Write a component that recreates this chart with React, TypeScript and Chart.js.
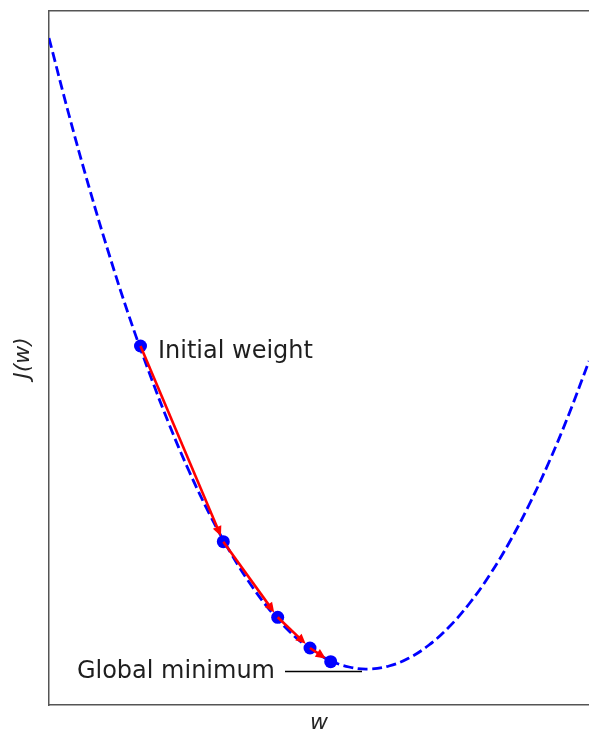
import React, { useEffect, useRef } from "react";
import { Chart, registerables } from "chart.js";

Chart.register(...registerables);

// Cost curve J(w)
const curveW = [0, 0.2, 0.4, 0.6, 0.8, 1.0, 1.2, 1.4, 1.6, 1.8, 2.0, 2.2, 2.4, 2.6, 2.8, 3.0, 3.2, 3.4, 3.6, 3.8, 4.0, 4.2, 4.4, 4.6, 4.8, 5.0, 5.2, 5.4];
const curveJ = [6.67, 5.9, 5.18, 4.51, 3.89, 3.33, 2.81, 2.34, 1.92, 1.55, 1.23, 0.96, 0.74, 0.57, 0.45, 0.38, 0.36, 0.39, 0.47, 0.6, 0.78, 1.01, 1.29, 1.62, 2.0, 2.43, 2.91, 3.44];

// Gradient descent steps
const stepW = [0.915, 1.743, 2.287, 2.61, 2.817];
const stepJ = [3.59, 1.633, 0.877, 0.57, 0.433];

// Labels
const xLabel = "w";
const yLabel = "J(w)";
const startLabel = "Initial weight";
const minLabel = "Global minimum";
const minPoint = { w: 3.13, j: 0.335 };

const FONT = "'DejaVu Sans', 'Liberation Sans', sans-serif";

const annotatePlugin = {
  id: "gdAnnotations",
  afterDatasetsDraw(chart: any) {
    const { ctx, scales } = chart;
    const xs = scales.x;
    const ys = scales.y;
    ctx.save();
    // red arrows between successive steps
    ctx.strokeStyle = "#ff0000";
    ctx.fillStyle = "#ff0000";
    ctx.lineWidth = 2.6;
    ctx.lineCap = "butt";
    const shrink = 6;
    const headLen = 10;
    const headHalf = 4.6;
    for (let i = 0; i < stepW.length - 1; i++) {
      const x0 = xs.getPixelForValue(stepW[i]);
      const y0 = ys.getPixelForValue(stepJ[i]);
      const x1 = xs.getPixelForValue(stepW[i + 1]);
      const y1 = ys.getPixelForValue(stepJ[i + 1]);
      const dx = x1 - x0;
      const dy = y1 - y0;
      const len = Math.hypot(dx, dy);
      const ux = dx / len;
      const uy = dy / len;
      const tipX = x1 - ux * shrink;
      const tipY = y1 - uy * shrink;
      const baseX = tipX - ux * headLen;
      const baseY = tipY - uy * headLen;
      ctx.beginPath();
      ctx.moveTo(x0, y0);
      ctx.lineTo(baseX + ux * 1, baseY + uy * 1);
      ctx.stroke();
      ctx.beginPath();
      ctx.moveTo(tipX, tipY);
      ctx.lineTo(baseX - uy * headHalf, baseY + ux * headHalf);
      ctx.lineTo(baseX + uy * headHalf, baseY - ux * headHalf);
      ctx.closePath();
      ctx.fill();
    }

    // texts
    ctx.font = `24px ${FONT}`;
    ctx.fillStyle = "#1e1e1e";
    ctx.textBaseline = "alphabetic";
    const sx = xs.getPixelForValue(stepW[0]);
    const sy = ys.getPixelForValue(stepJ[0]);
    ctx.textAlign = "left";
    ctx.fillText(startLabel, sx + 17.5, sy + 11.5);

    const mx = xs.getPixelForValue(minPoint.w);
    const my = ys.getPixelForValue(minPoint.j);
    ctx.strokeStyle = "#000000";
    ctx.lineWidth = 1.5;
    ctx.beginPath();
    ctx.moveTo(mx - 77, my);
    ctx.lineTo(mx, my);
    ctx.stroke();
    ctx.textAlign = "right";
    ctx.fillText(minLabel, mx - 87, my + 6.5);
    ctx.restore();
  },
};

export default function App() {
  const canvasRef = useRef<HTMLCanvasElement | null>(null);

  useEffect(() => {
    if (!canvasRef.current) return;
    const chart = new Chart(canvasRef.current, {
      type: "line",
      data: {
        datasets: [
          {
            label: "steps",
            data: stepW.map((w, i) => ({ x: w, y: stepJ[i] })),
            showLine: false,
            pointRadius: 6.5,
            pointBackgroundColor: "#0000ff",
            pointBorderWidth: 0,
            pointBorderColor: "#0000ff",
            order: 1,
          },
          {
            label: "J(w)",
            data: curveW.map((w, i) => ({ x: w, y: curveJ[i] })),
            borderColor: "#0000ff",
            borderWidth: 2.8,
            borderDash: [10, 4.5],
            borderCapStyle: "butt",
            pointRadius: 0,
            tension: 0.4,
            fill: false,
            order: 2,
          },
        ],
      },
      options: {
        animation: false,
        responsive: false,
        events: [],
        layout: { autoPadding: false, padding: { top: 11, left: 0, right: 0, bottom: 0 } },
        plugins: {
          legend: { display: false },
          tooltip: { enabled: false },
        },
        scales: {
          x: {
            type: "linear",
            position: "bottom",
            min: 0,
            max: 5.4,
            ticks: { display: false },
            grid: { display: false, drawTicks: false },
            border: { display: true, color: "#555555", width: 1.5 },
            title: {
              display: true,
              text: xLabel,
              color: "#262626",
              font: { family: FONT, size: 22, style: "italic", lineHeight: 1 },
              padding: { top: 7, bottom: 1 },
            },
          },
          x2: {
            type: "linear",
            position: "top",
            min: 0,
            max: 5.4,
            ticks: { display: false },
            grid: { display: false, drawTicks: false },
            border: { display: true, color: "#555555", width: 1.5 },
          },
          y: {
            type: "linear",
            position: "left",
            min: 0,
            max: 6.94,
            ticks: { display: false },
            grid: { display: false, drawTicks: false },
            border: { display: true, color: "#555555", width: 1.5 },
            title: {
              display: true,
              text: yLabel,
              color: "#262626",
              font: { family: FONT, size: 22, style: "italic", lineHeight: 1 },
              padding: { top: 12, bottom: 15 },
            },
          },
        },
      },
      plugins: [annotatePlugin],
    });
    return () => chart.destroy();
  }, []);

  return (
    <div style={{ position: "absolute", left: 0, top: 0, width: 589, height: 735 }}>
      <canvas ref={canvasRef} width={589} height={735} style={{ width: 589, height: 735, display: "block" }} />
    </div>
  );
}
